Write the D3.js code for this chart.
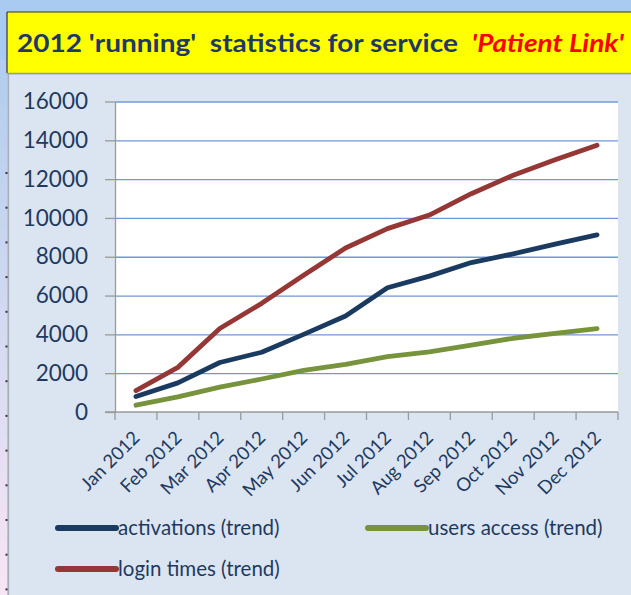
<!DOCTYPE html>
<html>
<head>
<meta charset="utf-8">
<script src="https://cdn.jsdelivr.net/npm/d3@7"></script>
<style>
  html, body { margin: 0; padding: 0; background: #a9cbf1; }
  svg { display: block; }
  text { font-family: Lato, "Open Sans", sans-serif; white-space: pre; }
</style>
</head>
<body>
<svg id="chart"></svg>
<script>
// categories
const months = ["Jan 2012", "Feb 2012", "Mar 2012", "Apr 2012", "May 2012", "Jun 2012",
  "Jul 2012", "Aug 2012", "Sep 2012", "Oct 2012", "Nov 2012", "Dec 2012"];

// series values
const activations = [800, 1500, 2550, 3080, 4000, 4950, 6400, 7000, 7700, 8150, 8650, 9130];
const usersAccess = [350, 780, 1280, 1700, 2150, 2450, 2850, 3100, 3450, 3800, 4050, 4300];
const loginTimes = [1100, 2300, 4300, 5600, 7050, 8450, 9450, 10150, 11250, 12200, 13000, 13750];

const yTicks = [0, 2000, 4000, 6000, 8000, 10000, 12000, 14000, 16000];

const series = [
  { name: "activations (trend)", values: activations, color: "#1b3a60" },
  { name: "users access (trend)", values: usersAccess, color: "#77933c" },
  { name: "login times (trend)", values: loginTimes, color: "#953735" },
];

const W = 631, H = 595;
const TEXT = "#1f3a5e";
const plot = { left: 115, right: 618, top: 101.5, bottom: 412 };

const svg = d3.select("#chart").attr("width", W).attr("height", H);

// page background + chart area
svg.append("rect").attr("width", W).attr("height", H).attr("fill", "#a9cbf1");

const defs = svg.append("defs");
const grad = defs.append("linearGradient").attr("id", "strip").attr("x1", 0).attr("x2", 0).attr("y1", 0).attr("y2", 1);
grad.append("stop").attr("offset", "0%").attr("stop-color", "#b2cdee");
grad.append("stop").attr("offset", "100%").attr("stop-color", "#f7e6f3");
svg.append("rect").attr("x", 0).attr("y", 60).attr("width", 7).attr("height", H - 60).attr("fill", "url(#strip)");
svg.append("rect").attr("x", 7).attr("y", 12).attr("width", 1.2).attr("height", H - 12).attr("fill", "#efb68e");
svg.append("rect").attr("x", 8.2).attr("y", 74).attr("width", 1).attr("height", H - 74).attr("fill", "#a7a7a7");
d3.range(172, H, 34.7).forEach((y) => {
  svg.append("rect").attr("x", 5.5).attr("y", y).attr("width", 2).attr("height", 2).attr("fill", "#333");
});

svg.append("rect").attr("x", 9.2).attr("y", 74.5).attr("width", W - 9.2).attr("height", H - 74.5).attr("fill", "#dbe5f1");

// title box
svg.append("rect").attr("x", 7).attr("y", 12).attr("width", W - 7).attr("height", 61).attr("fill", "#ffff00");
svg.append("line").attr("x1", 7).attr("x2", W).attr("y1", 12).attr("y2", 12).attr("stroke", "#333").attr("stroke-width", 1);
svg.append("line").attr("x1", 7).attr("x2", 7).attr("y1", 12).attr("y2", 73).attr("stroke", "#333").attr("stroke-width", 1.2);
svg.append("line").attr("x1", 7).attr("x2", W).attr("y1", 73.5).attr("y2", 73.5).attr("stroke", "#9a9a9a").attr("stroke-width", 1.5);

const title = svg.append("text").attr("x", 17).attr("y", 52)
  .attr("font-size", 24).attr("font-weight", 700).attr("fill", "#1f3864")
  .attr("textLength", 607).attr("lengthAdjust", "spacingAndGlyphs");
title.append("tspan").text("2012 'running'  statistics for service  ");
title.append("tspan").attr("fill", "#ff0000").attr("font-style", "italic").text("'Patient Link'");

// scales
const x = d3.scaleBand().domain(months).range([plot.left, plot.right]);
const y = d3.scaleLinear().domain([0, 16000]).range([plot.bottom, plot.top]);
const cx = (m) => x(m) + x.bandwidth() / 2;

svg.append("rect").attr("x", plot.left).attr("y", plot.top)
  .attr("width", plot.right - plot.left).attr("height", plot.bottom - plot.top).attr("fill", "#ffffff");

// gridlines
svg.append("g")
  .attr("transform", `translate(${plot.left},0)`)
  .call(d3.axisLeft(y).tickValues(yTicks.filter((t) => t > 0)).tickSize(-(plot.right - plot.left)).tickFormat(""))
  .call((a) => a.select(".domain").remove())
  .call((a) => a.selectAll("line").attr("stroke", "#6f98d4").attr("stroke-width", 1.3));

// y axis
svg.append("g")
  .attr("transform", `translate(${plot.left},0)`)
  .call(d3.axisLeft(y).tickValues(yTicks).tickFormat(d3.format("d")).tickSize(10).tickPadding(17).tickSizeOuter(0))
  .call((a) => a.select(".domain").attr("stroke", "#9a9a9a").attr("stroke-width", 1.3))
  .call((a) => a.selectAll("line").attr("stroke", "#9a9a9a").attr("stroke-width", 1.3))
  .call((a) => a.selectAll("text").attr("fill", TEXT).attr("font-size", 22.5)
    .attr("font-family", "Lato, sans-serif"));

// x axis: ticks at category boundaries
const xAxis = svg.append("g").attr("transform", `translate(0,${plot.bottom})`);
xAxis.append("line").attr("x1", plot.left - 10).attr("x2", plot.right)
  .attr("stroke", "#9a9a9a").attr("stroke-width", 1.3);
xAxis.selectAll("line.tick").data(months.concat(["end"])).join("line")
  .attr("class", "tick")
  .attr("x1", (d, i) => i < months.length ? x(d) : plot.right)
  .attr("x2", (d, i) => i < months.length ? x(d) : plot.right)
  .attr("y1", 0).attr("y2", 8)
  .attr("stroke", "#9a9a9a").attr("stroke-width", 1.3);
xAxis.selectAll("text").data(months).join("text")
  .attr("transform", (d) => `translate(${cx(d) + 5},${27}) rotate(-45)`)
  .attr("text-anchor", "end")
  .attr("font-size", 18.5)
  .attr("fill", TEXT)
  .text((d) => d);

// lines
const line = d3.line().x((d, i) => cx(months[i])).y((d) => y(d));
svg.append("g").selectAll("path").data(series).join("path")
  .attr("d", (s) => line(s.values))
  .attr("fill", "none")
  .attr("stroke", (s) => s.color)
  .attr("stroke-width", 4.8)
  .attr("stroke-linejoin", "round")
  .attr("stroke-linecap", "round");

// legend
const legendPos = [
  { x: 58, y: 528 },
  { x: 368, y: 528 },
  { x: 58, y: 569 },
];
const legend = svg.append("g").selectAll("g").data(series).join("g")
  .attr("transform", (d, i) => `translate(${legendPos[i].x},${legendPos[i].y})`);
legend.append("line").attr("x1", 0).attr("x2", 58).attr("y1", 0).attr("y2", 0)
  .attr("stroke", (d) => d.color).attr("stroke-width", 6).attr("stroke-linecap", "round");
legend.append("text").attr("x", 60).attr("y", 0).attr("dy", "0.35em")
  .attr("font-size", 20.5).attr("fill", TEXT).text((d) => d.name);
</script>
</body>
</html>
